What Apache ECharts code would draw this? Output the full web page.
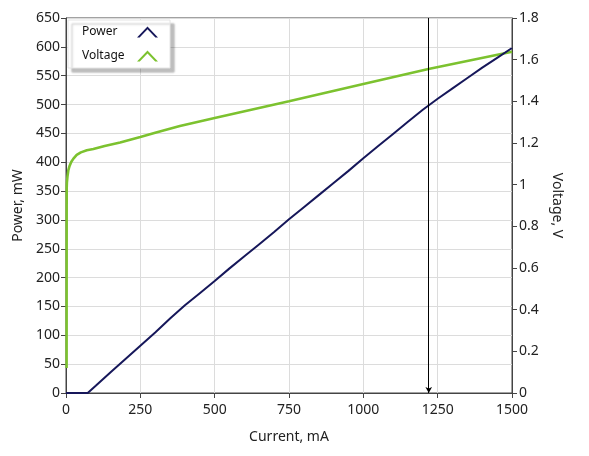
<!DOCTYPE html>
<html>
<head>
<meta charset="utf-8">
<script src="https://cdn.jsdelivr.net/npm/echarts@6/dist/echarts.min.js"></script>
<style>html,body{margin:0;padding:0;background:#fff;}#c{width:589px;height:456px;}</style>
</head>
<body>
<div id="c"></div>
<script>
var xTicks = [0, 250, 500, 750, 1000, 1250, 1500];
var powerCurrent = [0, 25, 50, 73, 100, 150, 200, 250, 300, 350, 400, 450, 500, 550, 600, 650, 700, 750, 800, 850, 900, 950, 1000, 1050, 1100, 1150, 1200, 1250, 1300, 1350, 1400, 1450, 1500];
var powerValues = [0, 0, 0, 0, 12.5, 36, 59, 82, 105, 129, 152, 173, 194, 216, 237, 258, 279, 301, 322, 343, 364, 385, 407, 428, 449, 470, 491, 510, 528, 546, 564, 581, 598];
var voltageCurrent = [2, 2.3, 3, 5, 8, 12, 18, 25, 36, 50, 70, 92, 130, 182, 250, 300, 383, 500, 750, 1000, 1219, 1500];
var voltageValues = [0.12, 0.98, 1.01, 1.04, 1.07, 1.09, 1.11, 1.125, 1.143, 1.155, 1.165, 1.171, 1.186, 1.202, 1.229, 1.249, 1.282, 1.32, 1.40, 1.483, 1.555, 1.638];
var cursorCurrent = 1220;

function pairs(xs, ys) { return xs.map(function (x, i) { return [x, ys[i]]; }); }

var font = "'Segoe UI', 'Noto Sans', 'Open Sans', sans-serif";
var chart = echarts.init(document.getElementById('c'), null, {renderer: 'canvas'});
chart.setOption({
  animation: false,
  backgroundColor: '#fff',
  grid: {left: 66, right: 77, top: 18, bottom: 63, show: true, borderColor: '#444', borderWidth: 1, backgroundColor: 'transparent'},
  legend: {
    orient: 'vertical', left: 68, top: 20, align: 'right',
    padding: [6, 12, 6, 14], itemGap: 12, itemWidth: 21, itemHeight: 11,
    backgroundColor: '#fff', borderColor: '#e4e4e4', borderWidth: 1,
    shadowColor: 'rgba(0,0,0,0.25)', shadowOffsetX: 4, shadowOffsetY: 4, shadowBlur: 2,
    formatter: function (name) { return '{a|' + name + '}'; },
    textStyle: {fontFamily: font, fontSize: 12, color: '#111',
      rich: {a: {fontFamily: font, fontSize: 12, color: '#111', width: 50, align: 'left'}}},
    data: [
      {name: 'Power', icon: 'path://M0,11 L10.5,0 L21,11 L18.4,11 L10.5,2.8 L2.6,11 Z'},
      {name: 'Voltage', icon: 'path://M0,11 L10.5,0 L21,11 L18.2,11 L10.5,3 L2.8,11 Z'}
    ]
  },
  xAxis: {
    type: 'value', min: 0, max: 1500, interval: 250,
    name: 'Current, mA', nameLocation: 'middle', nameGap: 37,
    nameTextStyle: {fontFamily: font, fontSize: 14, color: '#222'},
    axisLine: {show: true, lineStyle: {color: '#444'}},
    axisTick: {show: true, length: 5, inside: false, lineStyle: {color: '#444'}},
    axisLabel: {fontFamily: font, fontSize: 14, color: '#222', margin: 10,
      formatter: function (v) { return xTicks.indexOf(v) >= 0 ? String(v) : ''; }},
    splitLine: {show: true, lineStyle: {color: '#dcdcdc'}}
  },
  yAxis: [
    {
      type: 'value', min: 0, max: 650, interval: 50, position: 'left',
      name: 'Power, mW', nameLocation: 'middle', nameGap: 38, nameRotate: 90,
      nameTextStyle: {fontFamily: font, fontSize: 14, color: '#222'},
      axisLine: {show: true, lineStyle: {color: '#444'}},
      axisTick: {show: true, length: 5, lineStyle: {color: '#444'}},
      axisLabel: {fontFamily: font, fontSize: 14, color: '#222', margin: 6},
      splitLine: {show: true, lineStyle: {color: '#dcdcdc'}}
    },
    {
      type: 'value', min: 0, max: 1.8, interval: 0.2, position: 'right',
      name: 'Voltage, V', nameLocation: 'middle', nameGap: 36, nameRotate: -90,
      nameTextStyle: {fontFamily: font, fontSize: 14, color: '#222'},
      axisLine: {show: true, lineStyle: {color: '#444'}},
      axisTick: {show: true, length: 5, lineStyle: {color: '#444'}},
      axisLabel: {fontFamily: font, fontSize: 14, color: '#222', margin: 7,
        formatter: function (v) { return String(Math.round(v * 10) / 10); }},
      splitLine: {show: false}
    }
  ],
  series: [
    {
      name: 'Voltage', type: 'line', yAxisIndex: 1, showSymbol: false, symbol: 'none',
      data: pairs(voltageCurrent, voltageValues), smooth: false,
      lineStyle: {color: '#7cc22f', width: 2.6}, itemStyle: {color: '#7cc22f'}, z: 2
    },
    {
      name: 'Power', type: 'line', yAxisIndex: 0, showSymbol: false, symbol: 'none',
      data: pairs(powerCurrent, powerValues),
      lineStyle: {color: '#16175a', width: 2}, itemStyle: {color: '#16175a'}, z: 3,
      markLine: {
        silent: true, symbol: ['none', 'arrow'], symbolSize: [5, 6],
        label: {show: false},
        lineStyle: {color: '#000', width: 1, type: 'solid'},
        data: [[{coord: [cursorCurrent, 650]}, {coord: [cursorCurrent, 0]}]]
      }
    }
  ]
});
</script>
</body>
</html>
